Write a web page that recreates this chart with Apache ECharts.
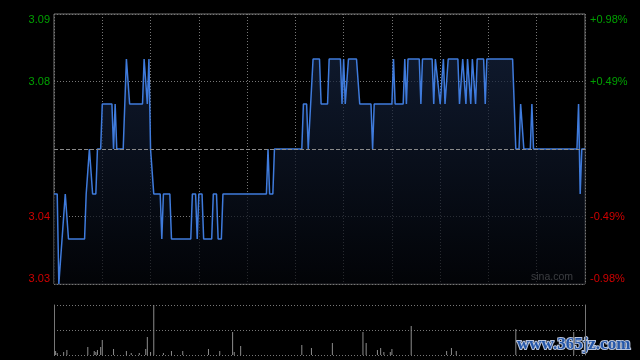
<!DOCTYPE html>
<html><head><meta charset="utf-8">
<script src="https://cdn.jsdelivr.net/npm/echarts@6/dist/echarts.min.js"></script>
<style>html,body{margin:0;background:#000;}#c{width:640px;height:360px;}</style>
</head><body><div id="c"></div>
<script>
// minute index since open (HK session, 330 minutes) and price at that minute
const minutes = [0,2,3,4,5,6,7,8,9,19,20,21,22,23,24,26,27,29,30,36,37,38,39,43,45,46,47,55,56,57,58,59,60,62,66,67,68,72,73,85,86,88,89,90,92,93,98,99,101,102,104,105,132,133,134,136,137,154,155,157,158,159,161,165,166,170,171,178,179,180,181,182,183,188,190,197,198,199,210,211,212,217,218,219,220,227,228,229,235,236,237,238,240,241,242,243,245,251,252,254,255,256,257,258,259,260,261,262,263,267,268,269,285,287,289,290,291,292,296,297,298,325,326,327,328,330];
const prices = [3.05,3.05,3.03,3.03,3.04,3.04,3.05,3.05,3.04,3.04,3.05,3.05,3.06,3.06,3.05,3.05,3.06,3.06,3.07,3.07,3.06,3.07,3.06,3.06,3.08,3.08,3.07,3.07,3.08,3.08,3.07,3.08,3.06,3.05,3.05,3.04,3.05,3.05,3.04,3.04,3.05,3.05,3.04,3.05,3.05,3.04,3.04,3.05,3.05,3.04,3.04,3.05,3.05,3.06,3.05,3.05,3.06,3.06,3.07,3.07,3.06,3.06,3.08,3.08,3.07,3.07,3.08,3.08,3.07,3.08,3.07,3.07,3.08,3.08,3.07,3.07,3.06,3.07,3.07,3.08,3.07,3.07,3.08,3.07,3.08,3.08,3.07,3.08,3.08,3.07,3.08,3.08,3.07,3.07,3.08,3.07,3.08,3.08,3.07,3.08,3.08,3.07,3.08,3.08,3.07,3.08,3.08,3.07,3.08,3.08,3.07,3.08,3.08,3.06,3.06,3.07,3.07,3.06,3.06,3.07,3.06,3.06,3.07,3.05,3.06,3.06];
const prevClose = 3.06;
const priceTicks = [3.03, 3.045, 3.06, 3.075, 3.09];
const leftLabels = ['3.03', '3.04', '', '3.08', '3.09'];
const rightLabels = ['-0.98%', '-0.49%', '', '+0.49%', '+0.98%'];
// volume bars (relative units)
const volMinutes = [1,2,6,8,21,25,26,27,29,30,37,45,48,53,57,58,60,62,68,73,80,96,103,111,112,116,154,160,173,192,194,201,203,205,209,210,222,244,247,250,287,323];
const volValues  = [4,2,3,5,8,4,3,5,8,15,6,4,2,2,6,18,3,50,2,4,4,6,4,23,3,9,10,7,12,23,12,5,7,3,3,6,29,4,7,4,26,23];

function tickIndex(v){ return priceTicks.findIndex(t => Math.abs(t - v) < 1e-6); }

const chart = echarts.init(document.getElementById('c'), null, {renderer:'canvas'});
const dotted = {color:'#777', width:1, type:[1,2]};
chart.setOption({
  backgroundColor:'#000',
  animation:false,
  grid:[
    {left:54, right:55, top:14, height:270, show:true, borderColor:'#777', borderWidth:1},
    {left:54, right:55, top:305, height:50, show:false}
  ],
  xAxis:[
    {type:'value', gridIndex:0, min:0, max:330, interval:30,
     axisLine:{show:false}, axisTick:{show:false}, axisLabel:{show:false},
     splitLine:{show:true, lineStyle:dotted}},
    {type:'value', gridIndex:1, min:0, max:330, interval:30,
     axisLine:{show:false}, axisTick:{show:false}, axisLabel:{show:false},
     splitLine:{show:false}}
  ],
  yAxis:[
    {type:'value', gridIndex:0, min:3.03, max:3.09, interval:0.015, position:'left',
     axisLine:{show:false}, axisTick:{show:false},
     splitLine:{show:true, lineStyle:dotted},
     axisLabel:{show:true, margin:4, fontSize:11, fontFamily:'Liberation Sans, Arial, sans-serif',
       verticalAlignMinLabel:'bottom', verticalAlignMaxLabel:'top',
       formatter:function(v){const i=tickIndex(v);return i<0?'':leftLabels[i];},
       color:function(v){return v>prevClose?'#00a000':'#d00000';}}},
    {type:'value', gridIndex:0, min:3.03, max:3.09, interval:0.015, position:'right',
     axisLine:{show:false}, axisTick:{show:false}, splitLine:{show:false},
     axisLabel:{show:true, margin:5, fontSize:11, fontFamily:'Liberation Sans, Arial, sans-serif',
       verticalAlignMinLabel:'bottom', verticalAlignMaxLabel:'top',
       formatter:function(v){const i=tickIndex(v);return i<0?'':rightLabels[i];},
       color:function(v){return v>prevClose?'#00a000':'#d00000';}}},
    {type:'value', gridIndex:1, min:0, max:50, interval:25, position:'left',
     axisLine:{show:true, lineStyle:{color:'#777', width:1}}, axisTick:{show:false}, axisLabel:{show:false},
     splitLine:{show:true, lineStyle:dotted}},
    {type:'value', gridIndex:1, min:0, max:50, interval:25, position:'right',
     axisLine:{show:true, lineStyle:{color:'#777', width:1}}, axisTick:{show:false}, axisLabel:{show:false},
     splitLine:{show:false}}
  ],
  series:[
    {type:'line', xAxisIndex:0, yAxisIndex:0, showSymbol:false, symbol:'none',
     data: minutes.map((m,i)=>[m, prices[i]]),
     lineStyle:{color:'#3f7bdc', width:1.5},
     areaStyle:{color:new echarts.graphic.LinearGradient(0,0,0,1,[{offset:0,color:'#15233e'},{offset:1,color:'#03050a'}])},
     markLine:{silent:true, symbol:'none', label:{show:false},
       lineStyle:{color:'#8a8a8a', width:1, type:[4,2]},
       data:[{yAxis:prevClose}]}},
    {type:'bar', xAxisIndex:1, yAxisIndex:2, barWidth:1,
     data: volMinutes.map((m,i)=>[m, volValues[i]]),
     itemStyle:{color:'#8c8c8c'}}
  ],
  graphic:[
    {type:'text', right:67, top:272, style:{text:'sina.com', fill:'#b8b8b8', font:'10.5px Liberation Sans, Arial, sans-serif'}},
    {type:'text', left:516, top:335, style:{text:'www.365jz.com', fill:'#2456a8', stroke:'#b8c4dc', lineWidth:2,
      font:'bold 17px Liberation Serif, serif'}}
  ]
});
</script></body></html>
